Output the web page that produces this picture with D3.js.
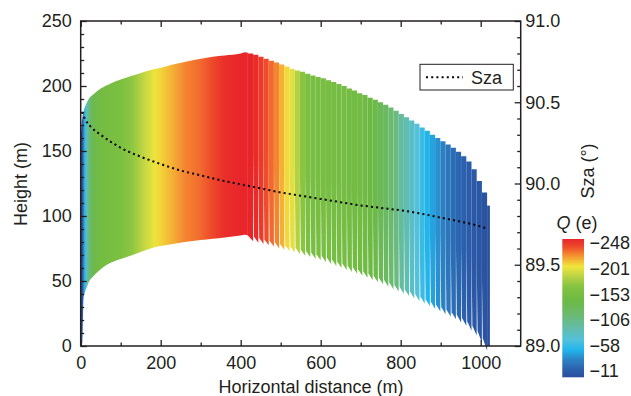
<!DOCTYPE html>
<html lang="en">
<head>
<meta charset="utf-8">
<script src="https://cdn.jsdelivr.net/npm/d3@7"></script>
<style>
  body { margin: 0; background: #fff; }
  text { font-family: "Liberation Sans", Arial, Helvetica, sans-serif; fill: #231f20; }
</style>
<title>Height vs horizontal distance</title>
</head>
<body>
<svg id="chart" width="631" height="396"></svg>
<script>
// ---- data ----
// smooth part of the band (rising limb)
var distSmooth   = [0, 2, 4, 5.5, 7, 10, 15, 20, 30, 50, 75, 100, 130, 160, 185, 200, 230, 260, 300, 330, 360, 400, 411, 418];
var topSmooth    = [160, 170, 175, 178, 180, 183.5, 187, 190, 193, 198, 202, 205, 208, 211, 213, 214, 216.5, 218.5, 221, 222.5, 223.5, 225, 226, 225.5];
var bottomSmooth = [0, 0, 3, 20, 36, 41, 45, 49, 53, 59, 64, 67, 70, 73.5, 76, 77, 78.5, 80, 81.5, 82.5, 83.5, 85, 85.5, 85];
var qSmooth      = [-11, -12, -16, -24, -40, -62, -88, -112, -136, -150, -155, -158, -170, -188, -199, -205, -213, -222, -228, -236, -245, -248, -248, -248];

// stepped part of the band (descending limb), one strip each
var distStrip   = [418, 431, 444, 457, 470, 483, 496, 509, 522, 535, 548, 561, 574, 587, 600, 613, 626, 639, 652, 665, 678, 691, 704, 717, 730, 743, 756, 769, 782, 795, 808, 821, 834, 847, 860, 873, 886, 899, 912, 925, 938, 951, 964, 977, 990, 1003, 1016];
var topStrip    = [225, 224, 222.5, 221, 219.5, 218, 216.5, 215, 213, 212, 211, 209.5, 208, 207, 206, 204.5, 203, 201.5, 200, 198, 196.5, 194.5, 193, 191, 189.5, 187.5, 185.5, 183.5, 181, 178.5, 176, 173.5, 171, 168, 165.5, 162.5, 160, 157.5, 155, 152.5, 149.5, 146, 142, 136, 127, 118, 108];
var bottomStrip = [85, 84, 83, 82, 81, 80, 78.5, 77.5, 76.5, 75.5, 74, 73, 72, 70.5, 69.5, 68, 66.5, 65, 63.5, 62, 60.5, 59, 57.5, 56, 54, 52.5, 51, 49, 47, 45.5, 43.5, 42, 40, 38, 36, 34, 32, 30, 28, 26, 24, 21.5, 19, 15.5, 11.5, 6, 0];
var qStrip      = [-248, -246, -241, -234, -228, -222, -213, -204, -196, -182, -168, -158, -155, -154, -153, -153, -152, -152, -151, -150, -149, -148, -146, -143, -138, -132, -126, -120, -112, -100, -92, -84, -76, -67, -58, -52, -46, -40, -35, -31, -27, -24, -21, -19, -17, -15, -13];

// solar zenith angle
var szaDist = [3, 10, 25, 50, 100, 150, 200, 250, 300, 350, 400, 450, 500, 550, 600, 650, 700, 750, 800, 850, 900, 950, 1000, 1018];
var szaVal  = [90.44, 90.40, 90.35, 90.30, 90.22, 90.165, 90.12, 90.08, 90.05, 90.02, 89.995, 89.97, 89.945, 89.925, 89.905, 89.885, 89.865, 89.85, 89.835, 89.815, 89.79, 89.765, 89.735, 89.72];

// colour map for Q
var cmapQ      = [-248, -234, -220, -201, -185, -166, -142, -118, -94, -75, -58, -42, -25, -11];
var cmapColors = ["#e8262a", "#ee4d2b", "#f58f31", "#f1e63b", "#bdd444", "#83c341", "#6cb944", "#6bba72", "#62bcac", "#52c1dc", "#22b5ec", "#2d85c6", "#2b62ad", "#2a4e9e"];

var xTicks   = [0, 200, 400, 600, 800, 1000];
var yTicks   = [0, 50, 100, 150, 200, 250];
var szaTicks = [89.0, 89.5, 90.0, 90.5, 91.0];
var qTicks   = [-248, -201, -153, -106, -58, -11];

// ---- layout ----
var plotL = 80.7, plotR = 520.7, plotT = 21, plotB = 346;
var toothDrop = 3.5;   // extra drop (m) at the right foot of each strip
var gapPx = 0.9;       // width of the light wedge between strips at the foot
var ink = "#231f20";
var fontSize = "18px";

var svg = d3.select("#chart");
var defs = svg.append("defs");

var x = d3.scaleLinear().domain([0, 1100]).range([plotL, plotR]);
var y = d3.scaleLinear().domain([0, 250]).range([plotB, plotT]);
var ySza = d3.scaleLinear().domain([89, 91]).range([plotB, plotT]);
var color = d3.scaleLinear().domain(cmapQ).range(cmapColors).clamp(true);

// smooth band with a horizontal gradient
var gx0 = x(distSmooth[0]), gx1 = x(distSmooth[distSmooth.length - 1]);
var bandGrad = defs.append("linearGradient")
    .attr("id", "bandGrad")
    .attr("gradientUnits", "userSpaceOnUse")
    .attr("x1", gx0).attr("x2", gx1).attr("y1", 0).attr("y2", 0);
bandGrad.selectAll("stop")
  .data(distSmooth)
  .join("stop")
    .attr("offset", function (d) { return (x(d) - gx0) / (gx1 - gx0); })
    .attr("stop-color", function (d, i) { return color(qSmooth[i]); });

var band = d3.area()
    .x(function (i) { return x(distSmooth[i]); })
    .y0(function (i) { return y(bottomSmooth[i]); })
    .y1(function (i) { return y(topSmooth[i]); })
    .curve(d3.curveMonotoneX);

svg.append("path")
    .datum(d3.range(distSmooth.length))
    .attr("d", band)
    .attr("fill", "url(#bandGrad)");

// stepped strips
var n = distStrip.length;
svg.append("g").selectAll("path")
  .data(distStrip)
  .join("path")
    .attr("d", function (d, i) {
      var last = i === n - 1;
      var xa = x(d);
      var xb = last ? x(d + 7) : x(distStrip[i + 1]);
      var yt = y(topStrip[i]);
      var yb = y(bottomStrip[i]);
      var ybr = last ? y(0) : y(bottomStrip[i + 1] - toothDrop);
      var ym = yt + (yb - yt) * 0.55;
      var g = (i === 0 || last) ? 0 : gapPx;
      return "M" + xa + "," + yt + "H" + xb + "V" + ybr +
             "L" + (xa + g) + "," + yb + "L" + xa + "," + ym + "Z";
    })
    .attr("fill", function (d, i) { return color(qStrip[i]); });

// Sza dotted line
var szaLine = d3.line()
    .x(function (i) { return x(szaDist[i]); })
    .y(function (i) { return ySza(szaVal[i]); })
    .curve(d3.curveMonotoneX);

svg.append("path")
    .datum(d3.range(szaDist.length))
    .attr("d", szaLine)
    .attr("fill", "none")
    .attr("stroke", "#000")
    .attr("stroke-width", 2)
    .attr("stroke-dasharray", "2,3.2");

// ---- axes ----
function styleAxis(g) {
  g.select(".domain").remove();
  g.selectAll("line").attr("stroke", ink).attr("stroke-width", 1.3);
  g.selectAll("text").style("font-size", fontSize)
    .style("font-family", "'Liberation Sans', Arial, Helvetica, sans-serif")
    .attr("fill", ink);
}

var xMinor = [100, 300, 500, 700, 900];
var yMinor = d3.range(10, 250, 10).filter(function (v) { return v % 50; });
var szaMinor = d3.range(1, 20).filter(function (k) { return k % 5; }).map(function (k) { return 89 + k / 10; });

// bottom
svg.append("g").attr("transform", "translate(0," + plotB + ")")
  .call(d3.axisBottom(x).tickValues(xTicks).tickFormat(d3.format("d")).tickSizeInner(-6).tickSizeOuter(0).tickPadding(10.5))
  .call(styleAxis);
svg.append("g").attr("transform", "translate(0," + plotB + ")")
  .call(d3.axisBottom(x).tickValues(xMinor).tickSize(-3.5).tickFormat(""))
  .call(styleAxis);
// top
svg.append("g").attr("transform", "translate(0," + plotT + ")")
  .call(d3.axisTop(x).tickValues(xTicks).tickSizeInner(-6).tickSizeOuter(0).tickFormat(""))
  .call(styleAxis);
svg.append("g").attr("transform", "translate(0," + plotT + ")")
  .call(d3.axisTop(x).tickValues(xMinor).tickSize(-3.5).tickFormat(""))
  .call(styleAxis);
// left
svg.append("g").attr("transform", "translate(" + plotL + ",0)")
  .call(d3.axisLeft(y).tickValues(yTicks).tickSizeInner(-6).tickSizeOuter(0).tickPadding(9))
  .call(styleAxis);
svg.append("g").attr("transform", "translate(" + plotL + ",0)")
  .call(d3.axisLeft(y).tickValues(yMinor).tickSize(-3.5).tickFormat(""))
  .call(styleAxis);
// right
svg.append("g").attr("transform", "translate(" + plotR + ",0)")
  .call(d3.axisRight(ySza).tickValues(szaTicks).tickFormat(d3.format(".1f")).tickSizeInner(-6).tickSizeOuter(0).tickPadding(4.5))
  .call(styleAxis);
svg.append("g").attr("transform", "translate(" + plotR + ",0)")
  .call(d3.axisRight(ySza).tickValues(szaMinor).tickSize(-3.5).tickFormat(""))
  .call(styleAxis);

// frame
svg.append("rect")
    .attr("x", plotL).attr("y", plotT)
    .attr("width", plotR - plotL).attr("height", plotB - plotT)
    .attr("fill", "none").attr("stroke", ink).attr("stroke-width", 1.5);

// axis titles
svg.append("text")
    .attr("x", 311).attr("y", 393)
    .attr("text-anchor", "middle")
    .style("font-size", fontSize)
    .text("Horizontal distance (m)");

svg.append("text")
    .attr("transform", "translate(27,184) rotate(-90)")
    .attr("text-anchor", "middle")
    .style("font-size", fontSize)
    .text("Height (m)");

svg.append("text")
    .attr("transform", "translate(594,171) rotate(-90)")
    .attr("text-anchor", "middle")
    .style("font-size", fontSize)
    .text("Sza (°)");

// legend
svg.append("rect")
    .attr("x", 420).attr("y", 64.3).attr("width", 93.3).attr("height", 25.7)
    .attr("fill", "#fff").attr("stroke", ink).attr("stroke-width", 1);
svg.append("line")
    .attr("x1", 426).attr("x2", 463).attr("y1", 77.3).attr("y2", 77.3)
    .attr("stroke", "#000").attr("stroke-width", 2)
    .attr("stroke-dasharray", "2,3.2");
svg.append("text")
    .attr("x", 471).attr("y", 83.5)
    .style("font-size", fontSize)
    .text("Sza");

// ---- colour bar ----
var cbX = 562.3, cbY = 239, cbW = 21.7, cbH = 138.3;
var cbGrad = defs.append("linearGradient")
    .attr("id", "cbGrad")
    .attr("x1", 0).attr("y1", 0).attr("x2", 0).attr("y2", 1);
cbGrad.selectAll("stop")
  .data(cmapQ)
  .join("stop")
    .attr("offset", function (d) { return (d - cmapQ[0]) / (cmapQ[cmapQ.length - 1] - cmapQ[0]); })
    .attr("stop-color", function (d, i) { return cmapColors[i]; });

svg.append("rect")
    .attr("x", cbX).attr("y", cbY).attr("width", cbW).attr("height", cbH)
    .attr("fill", "url(#cbGrad)");

var qLab = d3.scaleLinear().domain([qTicks[0], qTicks[qTicks.length - 1]]).range([243, 371]);
svg.append("g").selectAll("text")
  .data(qTicks)
  .join("text")
    .attr("x", 589.5)
    .attr("y", function (d) { return qLab(d); })
    .attr("dy", "0.35em")
    .style("font-size", fontSize)
    .text(function (d) { return "\u2212" + Math.abs(d); });

var qTitle = svg.append("text")
    .attr("x", 577).attr("y", 229)
    .attr("text-anchor", "middle")
    .style("font-size", fontSize);
qTitle.append("tspan").style("font-style", "italic").text("Q");
qTitle.append("tspan").text(" (e)");
</script>
</body>
</html>
